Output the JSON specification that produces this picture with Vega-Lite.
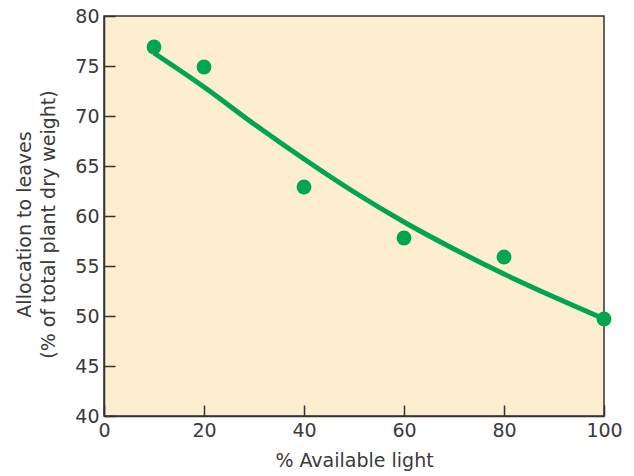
{
  "$schema": "https://vega.github.io/schema/vega-lite/v6.json",
  "width": 500,
  "height": 400,
  "autosize": "none",
  "padding": {"left": 104, "top": 16, "right": 30, "bottom": 60},
  "background": "white",
  "datasets": {
    "obs": [
      {"light": 10, "alloc": 76.9},
      {"light": 20, "alloc": 74.9},
      {"light": 40, "alloc": 62.9},
      {"light": 60, "alloc": 57.8},
      {"light": 80, "alloc": 55.9},
      {"light": 100, "alloc": 49.7}
    ],
    "fit": [
      {"light": 10, "alloc": 76.3},
      {"light": 20, "alloc": 72.9},
      {"light": 30, "alloc": 69.2},
      {"light": 40, "alloc": 65.7},
      {"light": 50, "alloc": 62.4},
      {"light": 60, "alloc": 59.4},
      {"light": 70, "alloc": 56.7},
      {"light": 80, "alloc": 54.2},
      {"light": 90, "alloc": 51.9},
      {"light": 100, "alloc": 49.7}
    ]
  },
  "config": {
    "view": {"fill": "#FDEECF", "stroke": "#333333", "strokeWidth": 1.5},
    "font": "DejaVu Sans",
    "axis": {
      "grid": false,
      "domainColor": "#333333",
      "domainWidth": 1.5,
      "tickColor": "#333333",
      "tickWidth": 1.5,
      "tickSize": -11,
      "labelFont": "DejaVu Sans",
      "labelFontSize": 19,
      "labelColor": "#3a3a3a",
      "labelFlush": false,
      "labelOverlap": false,
      "titleFont": "DejaVu Sans",
      "titleFontSize": 19,
      "titleFontWeight": "normal",
      "titleColor": "#3a3a3a"
    }
  },
  "layer": [
    {
      "data": {"name": "fit"},
      "mark": {"type": "line", "color": "#00A551", "strokeWidth": 5, "interpolate": "monotone"},
      "encoding": {
        "x": {
          "field": "light", "type": "quantitative",
          "scale": {"domain": [0, 100], "nice": false},
          "axis": {
            "title": "% Available light",
            "values": [0, 20, 40, 60, 80, 100],
            "labelPadding": 16,
            "titleY": 50,
            "titleBaseline": "alphabetic"
          }
        },
        "y": {
          "field": "alloc", "type": "quantitative",
          "scale": {"domain": [40, 80], "nice": false, "zero": false},
          "axis": {
            "title": ["Allocation to leaves", "(% of total plant dry weight)"],
            "values": [40, 45, 50, 55, 60, 65, 70, 75, 80],
            "labelPadding": 16,
            "titleAngle": -90,
            "titleAlign": "center",
            "titleBaseline": "middle",
            "titleLineHeight": 24,
            "titleX": -80,
            "titleY": 208
          }
        }
      }
    },
    {
      "data": {"name": "obs"},
      "mark": {"type": "point", "filled": true, "opacity": 1, "color": "#00A551", "size": 220},
      "encoding": {
        "x": {"field": "light", "type": "quantitative"},
        "y": {"field": "alloc", "type": "quantitative"}
      }
    }
  ]
}
